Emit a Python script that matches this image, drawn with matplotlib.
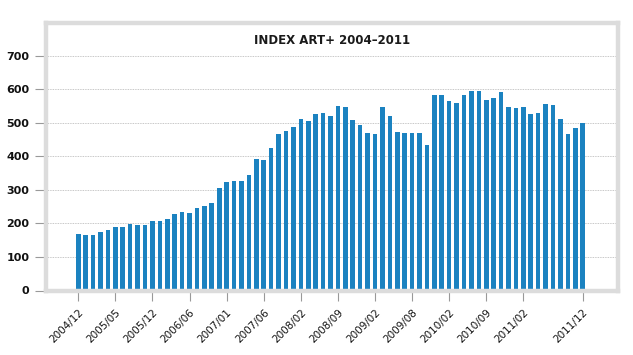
import matplotlib
matplotlib.use("Agg")
import matplotlib.pyplot as plt
import numpy as np

title = "INDEX ART+ 2004–2011"

values = [170, 165, 165, 176, 180, 189, 189, 199, 194, 194,
          208, 207, 214, 229, 234, 231, 245, 251, 261, 305,
          323, 326, 328, 344, 392, 389, 424, 468, 475, 487,
          511, 505, 526, 531, 522, 549, 547, 509, 494, 469,
          466, 546, 521, 473, 471, 471, 469, 433, 583, 582,
          564, 559, 582, 594, 595, 568, 573, 593, 548, 544,
          546, 526, 530, 556, 554, 513, 468, 486, 501]

tick_positions = [0, 5, 10, 15, 20, 25, 30, 35, 40, 45, 50, 55, 60, 68]
tick_labels = ["2004/12", "2005/05", "2005/12", "2006/06", "2007/01", "2007/06",
               "2008/02", "2008/09", "2009/02", "2009/08", "2010/02", "2010/09",
               "2011/02", "2011/12"]

y_ticks = [0, 100, 200, 300, 400, 500, 600, 700]

fig = plt.figure(figsize=(6.33, 3.55), dpi=100)
ax = fig.add_axes([46/633, 1-290.5/355, (618-46)/633, (290.5-23)/355])

x = np.arange(len(values))
ax.bar(x, values, width=0.62, color="#1b82c0", zorder=2)

ax.set_xlim(-4.35, 72.76)
ax.set_ylim(0, 798)

ax.set_yticks(y_ticks)
ax.set_yticklabels([str(v) for v in y_ticks], fontsize=8, fontweight="bold", color="#111111")
ax.set_xticks(tick_positions)
ax.set_xticklabels(tick_labels, rotation=45, ha="right", va="top",
                   rotation_mode="anchor", fontsize=7.5, color="#111111")

ax.tick_params(axis="y", length=8, width=0.8, color="#999999", pad=4)
ax.tick_params(axis="x", length=7, width=0.8, color="#999999", pad=5)

for v in y_ticks[1:]:
    ax.axhline(v, color="#b4b4b4", linestyle=(0, (1, 1)), linewidth=0.6, zorder=1)

for s in ax.spines.values():
    s.set_color("#dcdcdc")
    s.set_linewidth(3.2)
    s.set_zorder(3)

ax.text(0.5, 745, title, transform=ax.get_yaxis_transform(), ha="center", va="center",
        fontsize=8.5, fontweight="bold", color="#1a1a1a")

fig.savefig("out.png", dpi=100)
